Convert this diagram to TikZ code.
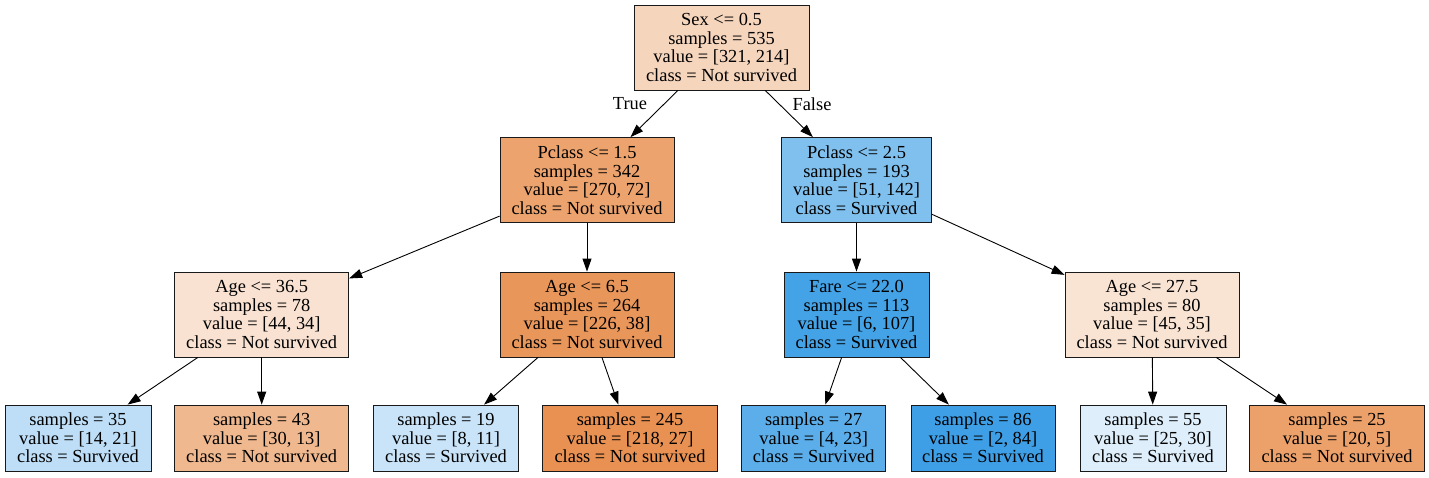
\documentclass[tikz,border=0pt]{standalone}
\usepackage{fontspec}
\setmainfont{Liberation Serif}
\usetikzlibrary{arrows.meta}
\definecolor{cRoot}{RGB}{246,213,189}
\definecolor{cPa}{RGB}{236,163,110}
\definecolor{cPb}{RGB}{128,192,238}
\definecolor{cAa}{RGB}{249,226,210}
\definecolor{cAb}{RGB}{233,150,91}
\definecolor{cFa}{RGB}{68,162,230}
\definecolor{cAc}{RGB}{249,227,211}
\definecolor{cLa}{RGB}{189,222,246}
\definecolor{cLb}{RGB}{240,184,143}
\definecolor{cLc}{RGB}{201,228,248}
\definecolor{cLd}{RGB}{232,145,82}
\definecolor{cLe}{RGB}{91,174,234}
\definecolor{cLf}{RGB}{62,159,230}
\definecolor{cLg}{RGB}{222,239,251}
\definecolor{cLh}{RGB}{236,161,107}
\tikzset{
  tn/.style={draw=black!90, line width=0.8pt, rectangle, inner sep=0pt, align=center,
    font=\fontsize{18.4}{18.5}\selectfont, minimum height=85pt},
  lf/.style={tn, minimum height=66pt},
  edge/.style={line width=0.9pt, -{Triangle[length=13pt,width=9pt]}},
  lbl/.style={font=\fontsize{18.4}{18.5}\selectfont, inner sep=0pt}
}
\begin{document}
\begin{tikzpicture}[x=1pt,y=-1pt]
\useasboundingbox (0,0) rectangle (1429,477);
\node[tn, fill=cRoot, minimum width=175pt] (root) at (721.5,47.5) {Sex <= 0.5\\samples = 535\\value = [321, 214]\\class = Not survived};
\node[tn, fill=cPa, minimum width=174pt] (pa) at (587,180) {Pclass <= 1.5\\samples = 342\\value = [270, 72]\\class = Not survived};
\node[tn, fill=cPb, minimum width=150pt] (pb) at (856.5,180) {Pclass <= 2.5\\samples = 193\\value = [51, 142]\\class = Survived};
\node[tn, fill=cAa, minimum width=174pt] (aa) at (261.7,314.5) {Age <= 36.5\\samples = 78\\value = [44, 34]\\class = Not survived};
\node[tn, fill=cAb, minimum width=174pt] (ab) at (587,314.5) {Age <= 6.5\\samples = 264\\value = [226, 38]\\class = Not survived};
\node[tn, fill=cFa, minimum width=145pt] (fa) at (856.5,314.5) {Fare <= 22.0\\samples = 113\\value = [6, 107]\\class = Survived};
\node[tn, fill=cAc, minimum width=174pt] (ac) at (1152,314.5) {Age <= 27.5\\samples = 80\\value = [45, 35]\\class = Not survived};
\node[lf, fill=cLa, minimum width=146pt] (la) at (78,438) {samples = 35\\value = [14, 21]\\class = Survived};
\node[lf, fill=cLb, minimum width=174pt] (lb) at (261.7,438) {samples = 43\\value = [30, 13]\\class = Not survived};
\node[lf, fill=cLc, minimum width=145pt] (lc) at (446,438) {samples = 19\\value = [8, 11]\\class = Survived};
\node[lf, fill=cLd, minimum width=175pt] (ld) at (630,438) {samples = 245\\value = [218, 27]\\class = Not survived};
\node[lf, fill=cLe, minimum width=144pt] (le) at (813.7,438) {samples = 27\\value = [4, 23]\\class = Survived};
\node[lf, fill=cLf, minimum width=144pt] (lf) at (983,438) {samples = 86\\value = [2, 84]\\class = Survived};
\node[lf, fill=cLg, minimum width=146pt] (lg) at (1153,438) {samples = 55\\value = [25, 30]\\class = Survived};
\node[lf, fill=cLh, minimum width=175pt] (lh) at (1337,438) {samples = 25\\value = [20, 5]\\class = Not survived};
\draw[edge] (root) -- (pa);
\draw[edge] (root) -- (pb);
\draw[edge] (pa) -- (aa);
\draw[edge] (pa) -- (ab);
\draw[edge] (pb) -- (fa);
\draw[edge] (pb) -- (ac);
\draw[edge] (aa) -- (la);
\draw[edge] (aa) -- (lb);
\draw[edge] (ab) -- (lc);
\draw[edge] (ab) -- (ld);
\draw[edge] (fa) -- (le);
\draw[edge] (fa) -- (lf);
\draw[edge] (ac) -- (lg);
\draw[edge] (ac) -- (lh);
\node[lbl] (ltrue) at (630,104) {True};
\node[lbl] (lfalse) at (812,104) {False};
\end{tikzpicture}
\end{document}
